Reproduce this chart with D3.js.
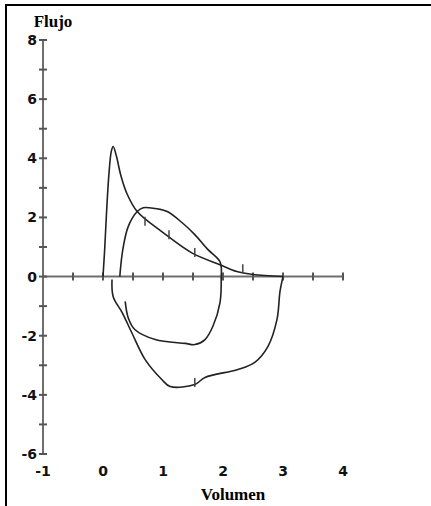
<!DOCTYPE html>
<html lang="es">
<head>
	<meta charset="utf-8">
	<title>Flujo - Volumen</title>
	<script src="https://d3js.org/d3.v7.min.js"></script>
	<style>
		body { margin: 0; background: #fff; }
		.curve { fill: none; stroke: #222; stroke-width: 1.6px; stroke-linejoin: round; }
		.axisline { stroke: #6e6e6e; stroke-width: 2px; }
		.tick { stroke: #555; stroke-width: 2px; }
		.ticklabel { font-family: "DejaVu Sans", sans-serif; font-weight: bold; font-size: 14px; fill: #111; }
		.title { font-family: "Liberation Serif", serif; font-weight: bold; font-size: 17px; fill: #000; }
	</style>
</head>
<body>
<div id="chart"></div>
<script>
// curva espiratoria forzada (volumen, flujo)
var forzadaEsp = [
	[0, 0], [0.03, 1.0], [0.06, 2.2], [0.1, 3.5], [0.14, 4.25], [0.17, 4.4],
	[0.22, 4.1], [0.3, 3.4], [0.4, 2.8], [0.57, 2.2], [0.98, 1.52], [1.48, 0.8],
	[1.95, 0.4], [2.23, 0.17], [2.5, 0.07], [3.0, 0]
];
// curva inspiratoria forzada
var forzadaInsp = [
	[3.0, 0], [2.95, -0.5], [2.9, -1.45], [2.75, -2.36], [2.53, -2.9], [2.25, -3.14],
	[1.7, -3.41], [1.53, -3.65], [1.12, -3.72], [0.98, -3.48], [0.7, -2.8],
	[0.48, -1.9], [0.32, -1.22], [0.17, -0.68], [0.15, -0.1]
];
// curva de volumen corriente
var corrienteEsp = [
	[0.28, 0], [0.33, 0.91], [0.42, 1.69], [0.57, 2.2], [0.67, 2.33], [0.87, 2.3],
	[1.07, 2.2], [1.32, 1.82], [1.53, 1.42], [1.75, 0.91], [1.95, 0.5], [1.97, 0]
];
var corrienteInsp = [
	[1.97, 0], [1.95, -0.88], [1.83, -1.69], [1.7, -2.13], [1.53, -2.3], [1.37, -2.26],
	[0.87, -2.13], [0.53, -1.79], [0.42, -1.39], [0.37, -0.84]
];
// marcas pequeñas sobre las curvas
var marcas = [[0.7, 1.85], [1.1, 1.4], [1.53, 0.8], [2.33, 0.25], [1.53, -3.6]];

var xTicks = [-1, 0, 1, 2, 3, 4];
var yTicks = [-6, -4, -2, 0, 2, 4, 6, 8];

var width = 431,
	height = 506;

var svg = d3.select("#chart")
	.append("svg")
	.attr("width", width)
	.attr("height", height);

var x = d3.scaleLinear().domain([-1, 4]).range([43, 343]);
var y = d3.scaleLinear().domain([-6, 8]).range([454, 40]);

// marco
svg.append("line").attr("x1", 5).attr("y1", 5).attr("x2", width).attr("y2", 5)
	.attr("stroke", "#000").attr("stroke-width", 2);
svg.append("line").attr("x1", 6).attr("y1", 4).attr("x2", 6).attr("y2", height)
	.attr("stroke", "#000").attr("stroke-width", 2);

// ejes
svg.append("line").attr("class", "axisline")
	.attr("x1", x(-1)).attr("x2", x(-1)).attr("y1", y(8)).attr("y2", y(-6));
svg.append("line").attr("class", "axisline")
	.attr("x1", x(-1)).attr("x2", x(4)).attr("y1", y(0)).attr("y2", y(0));

svg.append("g").selectAll("line")
	.data(d3.range(-6, 9, 1))
	.enter().append("line")
	.attr("class", "tick")
	.attr("x1", x(-1) - 4).attr("x2", x(-1) + 4)
	.attr("y1", function (d) { return y(d); })
	.attr("y2", function (d) { return y(d); });

svg.append("g").selectAll("line")
	.data(d3.range(-0.5, 4.01, 0.5))
	.enter().append("line")
	.attr("class", "tick")
	.attr("x1", function (d) { return x(d); })
	.attr("x2", function (d) { return x(d); })
	.attr("y1", y(0) - 4).attr("y2", y(0) + 4);

svg.append("g").selectAll("text")
	.data(yTicks)
	.enter().append("text")
	.attr("class", "ticklabel")
	.attr("x", x(-1) - 6)
	.attr("y", function (d) { return y(d) + 5; })
	.attr("text-anchor", "end")
	.text(function (d) { return d; });

svg.append("g").selectAll("text")
	.data(xTicks)
	.enter().append("text")
	.attr("class", "ticklabel")
	.attr("x", function (d) { return x(d); })
	.attr("y", 476)
	.attr("text-anchor", "middle")
	.text(function (d) { return d; });

svg.append("text").attr("class", "title")
	.attr("x", 53).attr("y", 27).attr("text-anchor", "middle").text("Flujo");
svg.append("text").attr("class", "title")
	.attr("x", 233).attr("y", 500).attr("text-anchor", "middle").text("Volumen");

// curvas
var line = d3.line()
	.x(function (d) { return x(d[0]); })
	.y(function (d) { return y(d[1]); })
	.curve(d3.curveCatmullRom.alpha(0.5));

[forzadaEsp, forzadaInsp, corrienteEsp, corrienteInsp].forEach(function (serie) {
	svg.append("path")
		.attr("class", "curve")
		.attr("d", line(serie));
});

svg.append("g").selectAll("line")
	.data(marcas)
	.enter().append("line")
	.attr("stroke", "#444")
	.attr("stroke-width", 1.5)
	.attr("x1", function (d) { return x(d[0]); })
	.attr("x2", function (d) { return x(d[0]); })
	.attr("y1", function (d) { return y(d[1]) - 5; })
	.attr("y2", function (d) { return y(d[1]) + 4; });
</script>
</body>
</html>
